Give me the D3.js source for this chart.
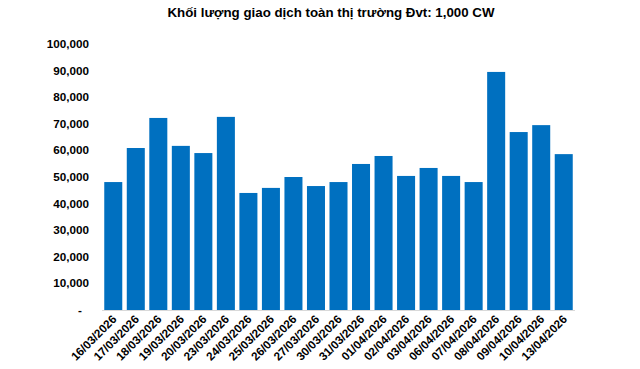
<!DOCTYPE html>
<html><head><meta charset="utf-8">
<script src="https://cdn.jsdelivr.net/npm/d3@7"></script>
<style>body{margin:0;background:#fff}svg{display:block}text{font-family:"Liberation Sans",Arial,sans-serif}</style>
</head><body>
<script>
const title = "Khối lượng giao dịch toàn thị trường Đvt: 1,000 CW";
const dates = ["16/03/2026","17/03/2026","18/03/2026","19/03/2026","20/03/2026","23/03/2026","24/03/2026","25/03/2026","26/03/2026","27/03/2026","30/03/2026","31/03/2026","01/04/2026","02/04/2026","03/04/2026","06/04/2026","07/04/2026","08/04/2026","09/04/2026","10/04/2026","13/04/2026"];
const volumes = [48100,60900,72200,61700,59000,72600,44000,45900,50000,46600,48100,54900,57900,50400,53400,50400,48100,89500,66900,69500,58600];
const yTicks = [0,10000,20000,30000,40000,50000,60000,70000,80000,90000,100000];

const W=640,H=369;
const svg=d3.select("body").append("svg").attr("width",W).attr("height",H);
const mL=102,mR=575,mT=44,mB=310;
const x=d3.scaleBand().domain(dates).range([mL,mR]).paddingInner(0.2).paddingOuter(0.1);
const y=d3.scaleLinear().domain([0,100000]).range([mB,mT]);

svg.append("text").attr("x",331).attr("y",17).attr("text-anchor","middle")
  .attr("font-size","13.3px").attr("font-weight","bold").attr("fill","#000").text(title);

svg.selectAll("rect.bar").data(volumes).join("rect").attr("class","bar")
  .attr("x",(d,i)=>x(dates[i])).attr("width",x.bandwidth())
  .attr("y",d=>y(d)).attr("height",d=>y(0)-y(d)).attr("fill","#0070C0");

svg.append("line").attr("x1",mL).attr("x2",mR).attr("y1",mB+0.5).attr("y2",mB+0.5)
  .attr("stroke","#d9d9d9").attr("stroke-width",1);

const fmt=d3.format(",");
svg.selectAll("text.yt").data(yTicks).join("text").attr("class","yt")
  .attr("x",d=>d===0?82:89).attr("y",d=>y(d)).attr("dy","0.35em").attr("text-anchor","end")
  .attr("font-size","11.7px").attr("font-weight","bold").attr("fill","#000")
  .text(d=>d===0?"-":fmt(d));

svg.selectAll("text.xt").data(dates).join("text").attr("class","xt")
  .attr("transform",d=>`translate(${x(d)+x.bandwidth()/2+4},${mB+10}) rotate(-45)`)
  .attr("text-anchor","end").attr("font-size","11.7px").attr("font-weight","bold").attr("fill","#000")
  .text(d=>d);
</script>
</body></html>
